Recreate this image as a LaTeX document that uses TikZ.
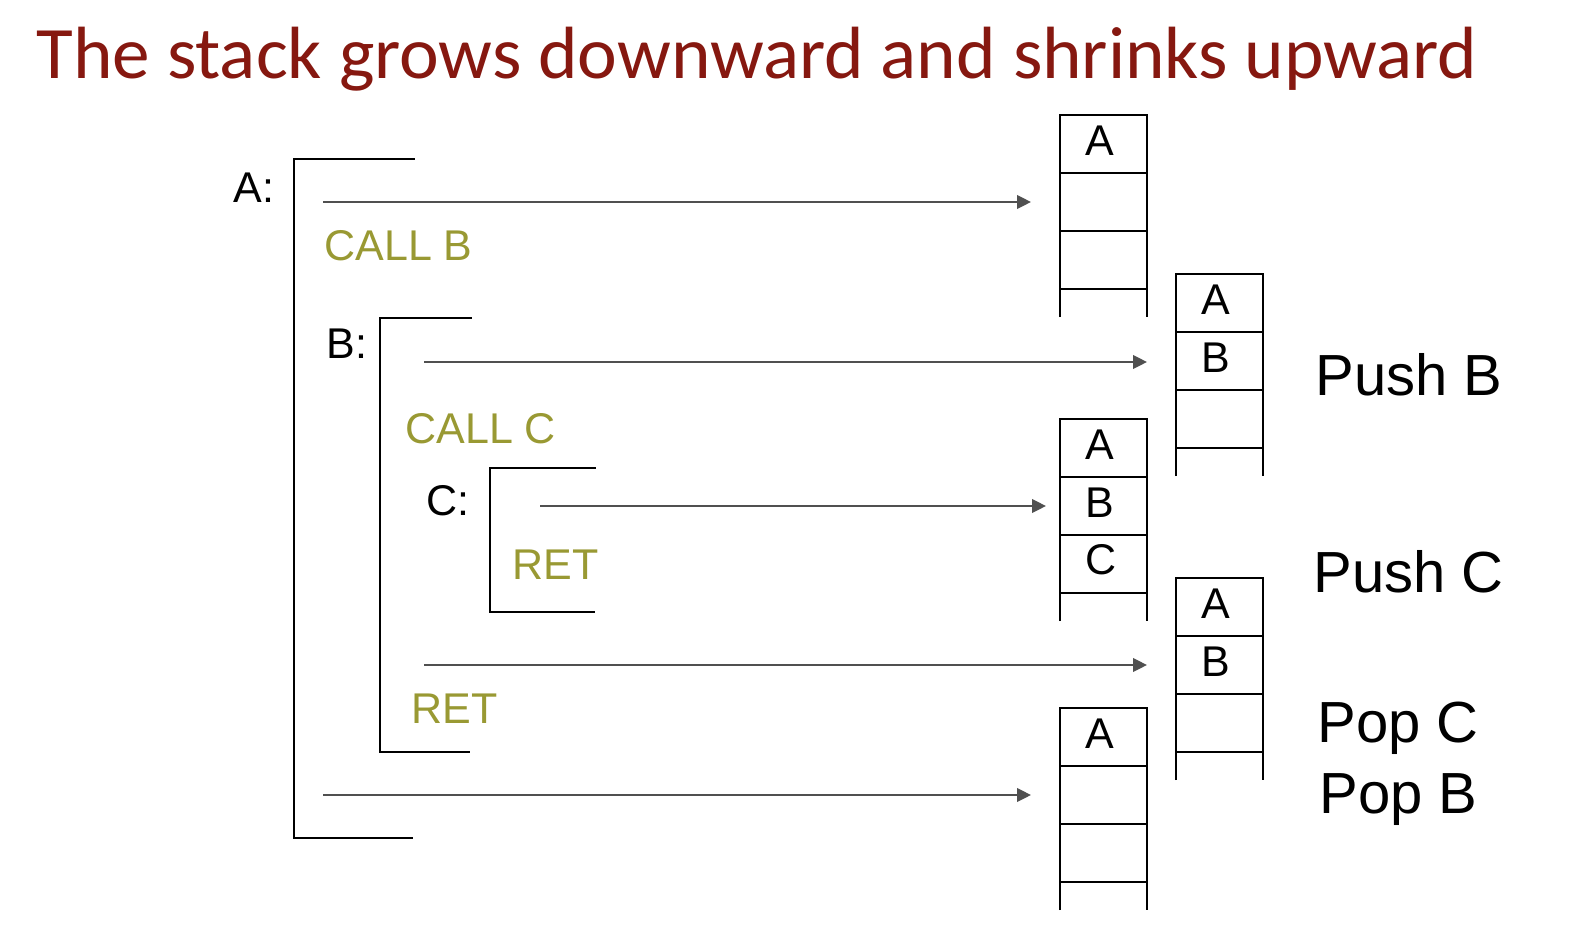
\documentclass[tikz,border=0pt]{standalone}
\usepackage{fontspec}
\setmainfont{Liberation Sans}
\newfontfamily\titlefont{Carlito}
\usetikzlibrary{arrows.meta}
\definecolor{titlered}{RGB}{134,24,16}
\definecolor{olivetext}{RGB}{153,153,51}
\definecolor{arrowgray}{RGB}{80,80,80}
\newcommand\stackcol[3]{% name, left x, top y
  \draw[stackline] (#2,#3+202) -- (#2,#3) -- (#2+87,#3) -- (#2+87,#3+202);
  \foreach \k in {1,2,3} {\draw[stackline] (#2,#3+58*\k) -- (#2+87,#3+58*\k);}
  \coordinate (#1) at (#2,#3);
}
\begin{document}
\begin{tikzpicture}[x=0.5pt,y=-0.5pt,
  bracket/.style={line width=1.25pt,black,line cap=rect},
  stackline/.style={line width=1.1pt,black},
  arr/.style={line width=1pt,arrowgray,-{Triangle[length=7pt,width=6.8pt]}},
  lbl/.style={font=\fontsize{21.5}{25}\selectfont,inner sep=0pt,anchor=base west},
  code/.style={lbl,text=olivetext},
  cell/.style={font=\fontsize{21.5}{25}\selectfont,inner sep=0pt,anchor=base},
  note/.style={font=\fontsize{29}{34}\selectfont,inner sep=0pt,anchor=base west}]
\useasboundingbox (0,0) rectangle (1576,948);
\fill[white] (0,0) rectangle (1576,948);

% title
\node[inner sep=0pt,anchor=base west,text=titlered,xscale=1.017,font=\titlefont\fontsize{37}{43}\selectfont] (title) at (36,78) {The stack grows downward and shrinks upward};

% brackets
\draw[bracket] (414,159) -- (294,159) -- (294,838) -- (412,838);
\draw[bracket] (471,318) -- (380,318) -- (380,752) -- (469,752);
\draw[bracket] (595,468) -- (490,468) -- (490,612) -- (594,612);

% labels
\node[lbl] (lA) at (233,202) {A:};
\node[lbl] (lB) at (326,358) {B:};
\node[lbl] (lC) at (426,515) {C:};
\node[code] (callB) at (324,260) {CALL B};
\node[code] (callC) at (405,443) {CALL C};
\node[code] (retC) at (512,579) {RET};
\node[code] (retB) at (411,723) {RET};

% stacks
\stackcol{s1}{1060}{115}
\stackcol{s2}{1176}{274}
\stackcol{s3}{1060}{419}
\stackcol{s4}{1176}{578}
\stackcol{s5}{1060}{708}

\node[cell] (s1a) at (1100,155) {A};
\node[cell] (s2a) at (1216,314) {A};
\node[cell] (s2b) at (1216,372) {B};
\node[cell] (s3a) at (1100,459) {A};
\node[cell] (s3b) at (1100,517) {B};
\node[cell] (s3c) at (1101,574) {C};
\node[cell] (s4a) at (1216,618) {A};
\node[cell] (s4b) at (1216,676) {B};
\node[cell] (s5a) at (1100,748) {A};

% notes
\node[note] (pushB) at (1315,395) {Push B};
\node[note] (pushC) at (1313,592) {Push C};
\node[note] (popC) at (1317,742) {Pop C};
\node[note] (popB) at (1319,813) {Pop B};

% arrows
\coordinate (a1s) at (323,202); \coordinate (a1e) at (1031,202);
\coordinate (a2s) at (424,362); \coordinate (a2e) at (1147,362);
\coordinate (a3s) at (540,506); \coordinate (a3e) at (1046,506);
\coordinate (a4s) at (424,665); \coordinate (a4e) at (1147,665);
\coordinate (a5s) at (323,795); \coordinate (a5e) at (1031,795);
\draw[arr] (a1s) -- (a1e);
\draw[arr] (a2s) -- (a2e);
\draw[arr] (a3s) -- (a3e);
\draw[arr] (a4s) -- (a4e);
\draw[arr] (a5s) -- (a5e);
\end{tikzpicture}
\end{document}
